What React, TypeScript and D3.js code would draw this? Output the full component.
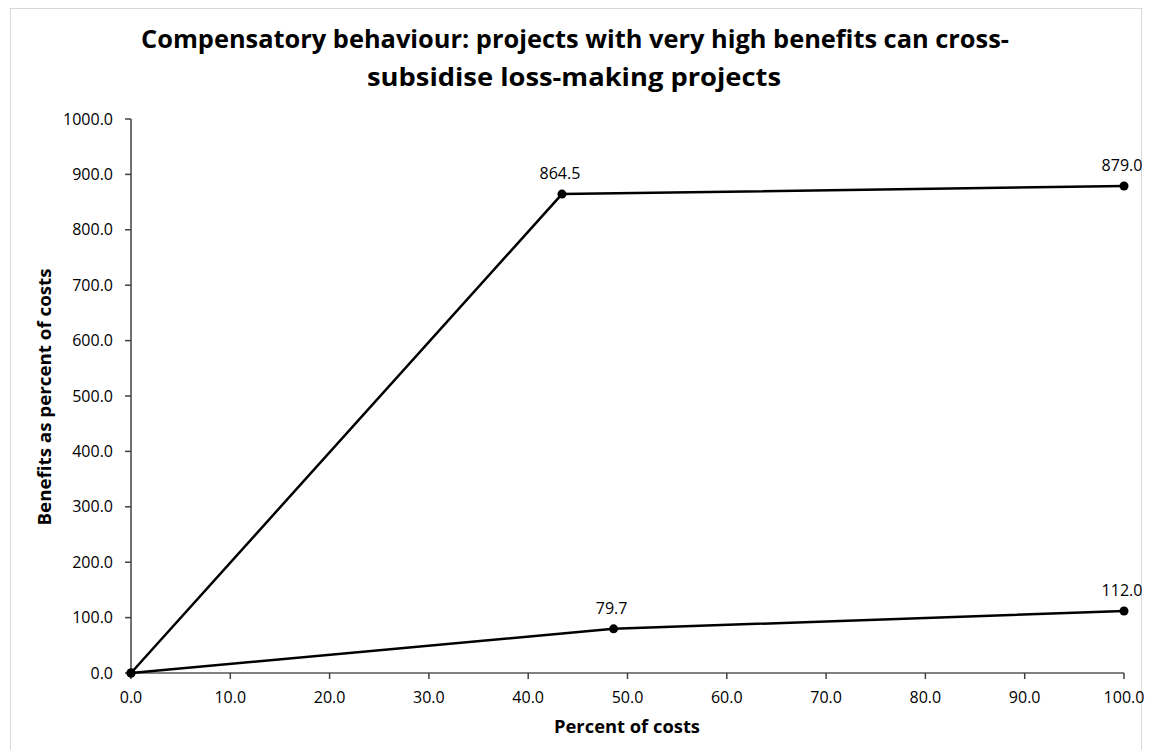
import React from "react";
import * as d3 from "d3";

const TITLE_LINES = [
  "Compensatory behaviour: projects with very high benefits can cross-",
  "subsidise loss-making projects",
];
const X_LABEL = "Percent of costs";
const Y_LABEL = "Benefits as percent of costs";

const upperX = [0, 43.4, 100];
const upperY = [0, 864.5, 879.0];
const lowerX = [0, 48.6, 100];
const lowerY = [0, 79.7, 112.0];

const xTicks = [0, 10, 20, 30, 40, 50, 60, 70, 80, 90, 100];
const yTicks = [0, 100, 200, 300, 400, 500, 600, 700, 800, 900, 1000];

const W = 1152;
const H = 750;
const FONT = "'Open Sans', 'DejaVu Sans', sans-serif";

export default function App() {
  const x = d3.scaleLinear().domain([0, 100]).range([131, 1124]);
  const y = d3.scaleLinear().domain([0, 1000]).range([673, 119]);
  const fmt = d3.format(".1f");
  const line = d3
    .line<[number, number]>()
    .x((d) => x(d[0]))
    .y((d) => y(d[1]));

  const series = [
    { xs: upperX, ys: upperY },
    { xs: lowerX, ys: lowerY },
  ];

  return (
    <svg
      width={W}
      height={H}
      style={{ position: "absolute", left: 0, top: 0, background: "#fff" }}
      fontFamily={FONT}
    >
      <rect x={0} y={0} width={W} height={H} fill="#fff" />
      <rect x={10.5} y={8.5} width={1131} height={760} fill="none" stroke="#d9d9d9" strokeWidth={1} />

      {/* Title */}
      <text x={575} y={48} textAnchor="middle" fontWeight="bold" fontSize={25} fill="#000"
        textLength={868} lengthAdjust="spacingAndGlyphs">
        {TITLE_LINES[0]}
      </text>
      <text x={574} y={86} textAnchor="middle" fontWeight="bold" fontSize={25} fill="#000"
        textLength={414} lengthAdjust="spacingAndGlyphs">
        {TITLE_LINES[1]}
      </text>

      {/* Y axis */}
      <line x1={x(0)} x2={x(0)} y1={y(0)} y2={y(1000)} stroke="#404040" strokeWidth={1.5} />
      {yTicks.map((t) => (
        <g key={"y" + t}>
          <line x1={x(0) - 6} x2={x(0)} y1={y(t)} y2={y(t)} stroke="#404040" strokeWidth={1.5} />
          <text x={113} y={y(t)} dy="0.35em" textAnchor="end" fontSize={16} fill="#000">
            {fmt(t)}
          </text>
        </g>
      ))}

      {/* X axis */}
      <line x1={x(0)} x2={x(100)} y1={y(0)} y2={y(0)} stroke="#808080" strokeWidth={2} />
      {xTicks.map((t) => (
        <g key={"x" + t}>
          <line x1={x(t)} x2={x(t)} y1={y(0)} y2={y(0) + 6} stroke="#404040" strokeWidth={1.5} />
          <text x={x(t)} y={697} dy="0.35em" textAnchor="middle" fontSize={16} fill="#000">
            {fmt(t)}
          </text>
        </g>
      ))}

      {/* Axis titles */}
      <text x={627} y={733} textAnchor="middle" fontWeight="bold" fontSize={17} fill="#000"
        textLength={146} lengthAdjust="spacingAndGlyphs">
        {X_LABEL}
      </text>
      <text
        transform={`translate(51, ${397}) rotate(-90)`}
        textAnchor="middle"
        fontWeight="bold"
        fontSize={17}
        fill="#000"
        textLength={257}
        lengthAdjust="spacingAndGlyphs"
      >
        {Y_LABEL}
      </text>

      {/* Series */}
      {series.map((s, i) => {
        const pts: [number, number][] = s.xs.map((v, j) => [v, s.ys[j]]);
        return (
          <g key={"s" + i}>
            <path d={line(pts) || ""} fill="none" stroke="#000" strokeWidth={2.5} />
            {pts.map((p, j) => (
              <circle key={j} cx={x(p[0])} cy={y(p[1])} r={4.5} fill="#000" />
            ))}
            {pts.slice(1).map((p, j) => (
              <text key={"l" + j} x={x(p[0]) - 2} y={y(p[1]) - 15} textAnchor="middle" fontSize={16} fill="#000">
                {fmt(p[1])}
              </text>
            ))}
          </g>
        );
      })}
    </svg>
  );
}
